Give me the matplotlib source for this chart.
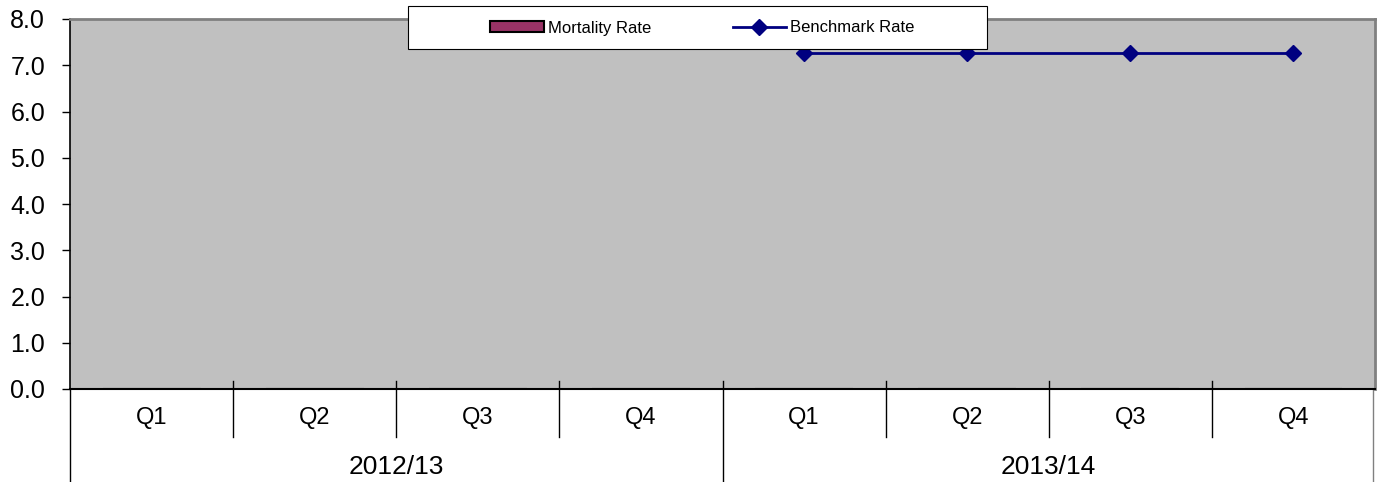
import numpy as np
import matplotlib.pyplot as plt
import matplotlib.transforms as mtransforms
from matplotlib.patches import Rectangle

plt.rcParams['font.family'] = ['Liberation Sans', 'DejaVu Sans']

# Quarterly categories grouped by financial year
years = ['2012/13', '2013/14']
quarters = ['Q1', 'Q2', 'Q3', 'Q4']
mortality_rate = [np.nan] * 8
benchmark_rate = [np.nan, np.nan, np.nan, np.nan, 7.26, 7.26, 7.26, 7.26]
y_ticks = [0.0, 1.0, 2.0, 3.0, 4.0, 5.0, 6.0, 7.0, 8.0]

W, H = 1380, 482
fig = plt.figure(figsize=(W / 100, H / 100), dpi=100)
ax = fig.add_axes([70 / W, 93 / H, 1305 / W, 370 / H])
ax.set_facecolor('#c0c0c0')

x = np.arange(len(years) * len(quarters))
bars = ax.bar(x, np.nan_to_num(mortality_rate), width=0.6, color='#993366',
              edgecolor='black', linewidth=1.5, label='Mortality Rate')
line, = ax.plot(x, benchmark_rate, color='#000080', linewidth=2, marker='D',
                markersize=8, label='Benchmark Rate')

ax.set_xlim(-0.5, len(x) - 0.5)
ax.set_ylim(0, 8)
ax.set_yticks(y_ticks)
ax.set_yticklabels([f'{v:.1f}' for v in y_ticks])
ax.tick_params(axis='y', direction='out', length=6, width=1, pad=12,
               labelsize=18, colors='black')
ax.set_xticks([])

for side in ['top', 'right']:
    ax.spines[side].set_color('#808080')
    ax.spines[side].set_linewidth(2)
ax.spines['left'].set_linewidth(1.2)
ax.spines['bottom'].set_linewidth(1.5)

# Two-level category axis drawn below the plot area
trans = mtransforms.blended_transform_factory(ax.transData, ax.transAxes)
for b in np.arange(0.5, len(x) - 1, 1.0):
    bottom = -0.25 if b == len(quarters) - 0.5 else -0.13
    ax.plot([b, b], [0.022, bottom], color='black', lw=1,
            transform=trans, clip_on=False)
ax.plot([0, 0], [0, -0.25], color='black', lw=1,
        transform=ax.transAxes, clip_on=False)
ax.plot([0.9985, 0.9985], [0, -0.25], color='#808080', lw=1,
        transform=ax.transAxes, clip_on=False)

for i in x:
    ax.text(i, -0.078, quarters[i % len(quarters)], transform=trans,
            ha='center', va='center', fontsize=17)
for j, yr in enumerate(years):
    mid = j * len(quarters) + (len(quarters) - 1) / 2
    ax.text(mid, -0.21, yr, transform=trans, ha='center', va='center',
            fontsize=19)

# Legend box with the entries centred inside
fig.patches.append(Rectangle((408 / W, 1 - 49 / H), 579 / W, 43 / H,
                             transform=fig.transFigure, facecolor='white',
                             edgecolor='black', linewidth=0.8, zorder=5))
leg = fig.legend([bars, line], ['Mortality Rate', 'Benchmark Rate'],
                 loc='center', bbox_to_anchor=(702.5 / W, 1 - 28 / H),
                 ncol=2, fontsize=12, frameon=False,
                 handlelength=3.2, handleheight=0.6, handletextpad=0.25,
                 columnspacing=4.9, borderpad=0, borderaxespad=0)
leg.set_zorder(6)

fig.savefig('out.png', dpi=100)
